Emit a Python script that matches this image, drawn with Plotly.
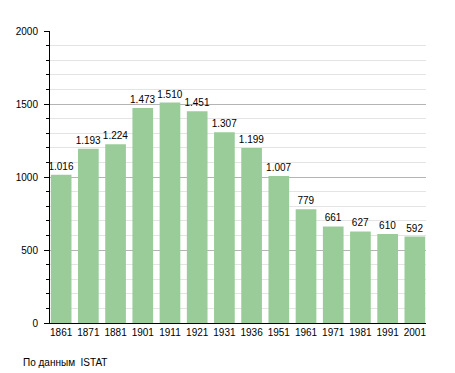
import plotly.graph_objects as go

years = ["1861", "1871", "1881", "1901", "1911", "1921", "1931", "1936",
         "1951", "1961", "1971", "1981", "1991", "2001"]
population = [1016, 1193, 1224, 1473, 1510, 1451, 1307, 1199, 1007, 779, 661, 627, 610, 592]
value_labels = ["1.016", "1.193", "1.224", "1.473", "1.510", "1.451", "1.307", "1.199",
                "1.007", "779", "661", "627", "610", "592"]
y_ticks = [0, 500, 1000, 1500, 2000]
source_text = "По данным  ISTAT"

FONT = "Liberation Sans, Arial, Helvetica, sans-serif"
FS = 10
idx = list(range(len(years)))

# page body has an 8px default margin; compensate in the figure margins
OFF = 8
L, R, T, B = 50 - OFF, 455 - (426 - OFF), 31 - OFF, 373 - (323 - OFF)
plot_w = 455 - L - R
plot_h = 373 - T - B

fig = go.Figure()
fig.add_trace(go.Bar(
    x=idx,
    y=population,
    text=value_labels,
    textposition="outside",
    constraintext="none",
    textfont=dict(family=FONT, size=FS, color="black"),
    marker=dict(color="rgb(153,204,153)", line=dict(width=0)),
    width=0.76,
    cliponaxis=False,
    hoverinfo="skip",
))

fig.update_layout(
    width=455, height=373,
    margin=dict(l=L, r=R, t=T, b=B, autoexpand=False),
    paper_bgcolor="white",
    plot_bgcolor="white",
    showlegend=False,
    font=dict(family=FONT, size=FS, color="black"),
    xaxis=dict(
        automargin=False,
        range=[-0.41, 13.41],
        tickmode="array",
        tickvals=idx,
        ticktext=years,
        ticks="",
        showgrid=False,
        zeroline=False,
        showline=True,
        linecolor="black",
        linewidth=1,
        tickfont=dict(family=FONT, size=FS, color="black"),
        fixedrange=True,
    ),
    yaxis=dict(
        automargin=False,
        range=[0, 2000],
        tickmode="array",
        tickvals=y_ticks,
        ticks="outside",
        ticklen=5,
        tickcolor="black",
        tickwidth=1,
        showline=True,
        linecolor="black",
        linewidth=1,
        showgrid=True,
        gridcolor="#b4b4b4",
        gridwidth=1,
        zeroline=False,
        tickfont=dict(family=FONT, size=FS, color="black"),
        ticklabelstandoff=4,
        minor=dict(
            dtick=100,
            ticks="outside",
            ticklen=3,
            tickcolor="black",
            showgrid=True,
            gridcolor="#e4e4e4",
            gridwidth=1,
        ),
        fixedrange=True,
    ),
    annotations=[dict(
        text=source_text,
        xref="paper", yref="paper",
        x=(20.5 - 50) / plot_w, y=(323 - 362) / plot_h,
        xanchor="left", yanchor="middle",
        showarrow=False,
        font=dict(family=FONT, size=FS, color="black"),
    )],
)

fig.write_html("out.html")
